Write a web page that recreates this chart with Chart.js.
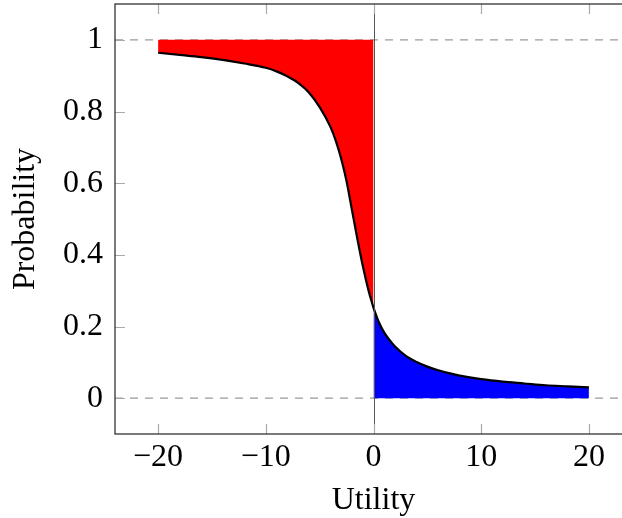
<!DOCTYPE html>
<html><head><meta charset="utf-8">
<script src="https://cdn.jsdelivr.net/npm/chart.js@4.4.0/dist/chart.umd.min.js"></script>
<style>html,body{margin:0;padding:0;overflow:hidden;background:#fff;width:622px;height:518px}
#wrap{position:relative;width:650px;height:518px}</style></head>
<body><div id="wrap"><canvas id="c" width="650" height="518" style="width:650px;height:518px"></canvas></div>
<script>
const xTickValues=[-20,-10,0,10,20];
const xTickLabels=['\u221220','\u221210','0','10','20'];
const yTickValues=[0,0.2,0.4,0.6,0.8,1];
const yTickLabels=['0','0.2','0.4','0.6','0.8','1'];
const xRange=[-24,24];
const yRange=[-0.1,1.1];
const refLevels=[0,1];
// left branch (x<0): probability curve, filled up to 1
const leftX=[-20,-18,-16,-14,-12,-10,-9,-8,-7,-6,-5,-4,-3.5,-3,-2.5,-2,-1.5,-1,-0.5,0];
const leftY=[0.964,0.958,0.952,0.944,0.934,0.922,0.912,0.898,0.880,0.853,0.812,0.757,0.718,0.668,0.605,0.525,0.445,0.370,0.305,0.252];
// right branch (x>0): probability curve, filled down to 0
const rightX=[0,0.5,1,1.5,2,3,4,5,6,7,8,10,12,14,16,18,20];
const rightY=[0.252,0.212,0.183,0.162,0.144,0.118,0.101,0.088,0.078,0.070,0.063,0.053,0.046,0.041,0.036,0.033,0.030];

const FONT='"Liberation Serif","Times New Roman",serif';
const pts=(xs,ys)=>xs.map((x,i)=>({x:x,y:ys[i]}));

const refSets=refLevels.map(v=>({
  data:[{x:xRange[0],y:v},{x:xRange[1],y:v}],
  borderColor:'#9a9a9a',borderWidth:1.2,borderDash:[8,7],
  pointRadius:0,fill:false,order:10,tension:0
}));

const decor={
  id:'decor',
  afterDatasetsDraw(chart){
    const {ctx,chartArea:a,scales:{x,y}}=chart;
    ctx.save();
    const x0=Math.round(x.getPixelForValue(0))+0.5;
    ctx.strokeStyle='#555';ctx.lineWidth=1;
    ctx.beginPath();ctx.moveTo(x0,a.top);ctx.lineTo(x0,a.bottom);ctx.stroke();
    ctx.strokeStyle='#aaaaaa';ctx.lineWidth=1.2;
    const L=10;
    xTickValues.forEach(v=>{
      const p=Math.round(x.getPixelForValue(v))+0.5;
      ctx.beginPath();ctx.moveTo(p,a.bottom);ctx.lineTo(p,a.bottom-L);
      ctx.moveTo(p,a.top);ctx.lineTo(p,a.top+L);ctx.stroke();
    });
    yTickValues.forEach(v=>{
      const p=Math.round(y.getPixelForValue(v))+0.5;
      ctx.beginPath();ctx.moveTo(a.left,p);ctx.lineTo(a.left+L,p);
      ctx.moveTo(a.right,p);ctx.lineTo(a.right-L,p);ctx.stroke();
    });
    ctx.strokeStyle='#333';ctx.lineWidth=1.3;
    ctx.strokeRect(a.left,a.top,a.right-a.left,a.bottom-a.top);
    ctx.restore();
  }
};

new Chart(document.getElementById('c'),{
  type:'line',
  data:{datasets:[
    {data:pts(leftX,leftY),borderColor:'#000',borderWidth:2.2,backgroundColor:'#ff0000',
     fill:{value:1},pointRadius:0,cubicInterpolationMode:'monotone',order:1},
    {data:pts(rightX,rightY),borderColor:'#000',borderWidth:2.2,backgroundColor:'#0000ff',
     fill:'origin',pointRadius:0,cubicInterpolationMode:'monotone',order:0},
    ...refSets
  ]},
  options:{
    responsive:false,animation:false,
    layout:{padding:{top:4,right:18,left:0,bottom:0}},
    plugins:{legend:{display:false},tooltip:{enabled:false}},
    scales:{
      x:{type:'linear',min:xRange[0],max:xRange[1],
        grid:{display:false,drawTicks:false},border:{display:false},
        afterBuildTicks(s){s.ticks=xTickValues.map(v=>({value:v}));},
        afterFit(s){s.height=84;s.paddingLeft=0;s.paddingRight=0;},
        ticks:{color:'#000',padding:8,autoSkip:false,maxRotation:0,
          font:{family:FONT,size:32,lineHeight:1},
          callback:(v)=>xTickLabels[xTickValues.indexOf(v)]},
        title:{display:true,text:'Utility',color:'#000',
          font:{family:FONT,size:32,lineHeight:1},padding:{top:0,bottom:1}}
      },
      y:{type:'linear',min:yRange[0],max:yRange[1],
        grid:{display:false,drawTicks:false},border:{display:false},
        afterBuildTicks(s){s.ticks=yTickValues.map(v=>({value:v}));},
        afterFit(s){s.width=115;s.paddingTop=0;s.paddingBottom=0;},
        ticks:{color:'#000',padding:12,autoSkip:false,
          font:{family:FONT,size:32,lineHeight:1},
          callback:(v)=>yTickLabels[yTickValues.indexOf(v)]},
        title:{display:true,text:'Probability',color:'#000',
          font:{family:FONT,size:32,lineHeight:1},padding:{top:10,bottom:0}}
      }
    }
  },
  plugins:[decor]
});
</script></body></html>
